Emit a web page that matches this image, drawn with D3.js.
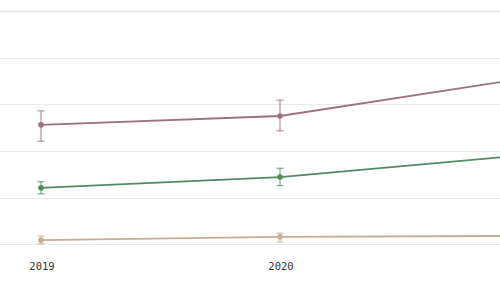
<!DOCTYPE html>
<html>
<head>
<meta charset="utf-8">
<script src="https://cdn.jsdelivr.net/npm/d3@7"></script>
<style>
  body { margin: 0; background: #fff; }
  svg { display: block; }
  .grid line { stroke: #e8e8e8; }
  .xaxis text { font-family: "DejaVu Sans Mono", monospace; font-size: 10.5px; fill: #333; }
</style>
</head>
<body>
<div id="chart"></div>
<script>
var years = [2019, 2020, 2021],
    tickYears = [2019, 2020],
    yTicks = [0, 10, 20, 30, 40, 50],
    seriesNames = ["purple", "green", "tan"],
    seriesColors = ["#9c7080", "#518c60", "#c6ad90"],
    purpleVals = [25.6, 27.5, 35.4],
    purpleLow = [22.1, 24.3, 32.0],
    purpleHigh = [28.6, 30.9, 38.5],
    greenVals = [12.1, 14.4, 19.0],
    greenLow = [10.8, 12.6, 17.0],
    greenHigh = [13.4, 16.3, 21.0],
    tanVals = [0.9, 1.6, 1.8],
    tanLow = [0.1, 0.5, 0.8],
    tanHigh = [1.8, 2.4, 2.8];

var data = [
  { name: seriesNames[0], color: seriesColors[0], v: purpleVals, lo: purpleLow, hi: purpleHigh },
  { name: seriesNames[1], color: seriesColors[1], v: greenVals, lo: greenLow, hi: greenHigh },
  { name: seriesNames[2], color: seriesColors[2], v: tanVals, lo: tanLow, hi: tanHigh }
];

var svg = d3.select("#chart").append("svg").attr("width", 500).attr("height", 281),
    margin = { top: 11, left: 0 },
    height = 244.3 - margin.top;

var x = d3.scaleLinear()
    .domain([2019, 2020])
    .range([41, 280]);
var y = d3.scaleLinear()
    .domain([0, 50])
    .range([margin.top + height, margin.top]);

// gridlines
var grid = svg.append("g").attr("class", "grid");
grid.selectAll("line")
    .data(yTicks)
    .enter().append("line")
    .attr("x1", 0).attr("x2", 500)
    .attr("y1", d => Math.round(y(d)) + 0.5)
    .attr("y2", d => Math.round(y(d)) + 0.5)
    .attr("stroke-width", d => d === 50 ? 2 : 1);

// x axis labels (2021 falls outside the visible area)
var xAxis = svg.append("g")
    .attr("class", "xaxis")
    .attr("transform", "translate(0,263)")
    .call(d3.axisBottom(x).tickValues(tickYears).tickFormat(d3.format("d")).tickSize(0).tickPadding(0));
xAxis.select(".domain").remove();
xAxis.selectAll("text").attr("dy", "0.71em").attr("x", 0.5);

var line = d3.line()
    .x((d, i) => x(years[i]))
    .y(d => y(d));

var s = svg.selectAll(".series")
    .data(data)
    .enter().append("g")
    .attr("class", "series");

s.append("path")
    .attr("d", d => line(d.v))
    .attr("fill", "none")
    .attr("stroke", d => d.color)
    .attr("stroke-width", 1.8);

// error bars
s.each(function (d) {
  var g = d3.select(this);
  var eb = g.selectAll(".err")
      .data(years.map((yr, i) => ({ yr: yr, lo: d.lo[i], hi: d.hi[i] })))
      .enter().append("g")
      .attr("class", "err")
      .attr("stroke", d.color)
      .attr("stroke-opacity", 0.75)
      .attr("stroke-width", 1.2);
  eb.append("line")
      .attr("x1", e => x(e.yr)).attr("x2", e => x(e.yr))
      .attr("y1", e => y(e.lo)).attr("y2", e => y(e.hi));
  eb.append("line")
      .attr("x1", e => x(e.yr) - 3.5).attr("x2", e => x(e.yr) + 3.5)
      .attr("y1", e => y(e.lo)).attr("y2", e => y(e.lo));
  eb.append("line")
      .attr("x1", e => x(e.yr) - 3.5).attr("x2", e => x(e.yr) + 3.5)
      .attr("y1", e => y(e.hi)).attr("y2", e => y(e.hi));

  g.selectAll("circle")
      .data(d.v)
      .enter().append("circle")
      .attr("cx", (v, i) => x(years[i]))
      .attr("cy", v => y(v))
      .attr("r", 2.8)
      .attr("fill", d.color);
});
</script>
</body>
</html>
